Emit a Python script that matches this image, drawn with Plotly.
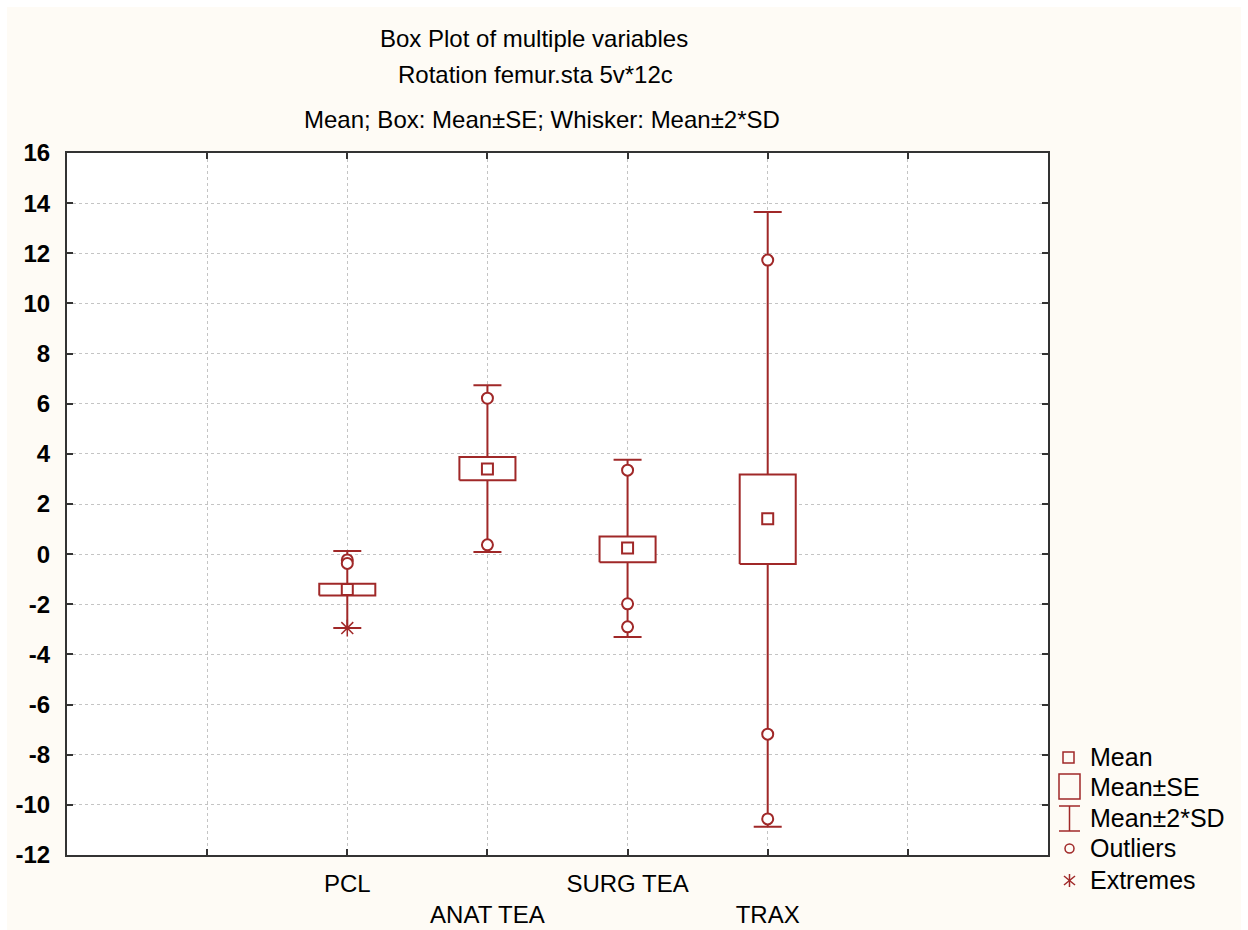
import plotly.graph_objects as go

# ---- data ----
categories = ["PCL", "ANAT TEA", "SURG TEA", "TRAX"]
cat_pos = [2, 3, 4, 5]
means = [-1.41, 3.40, 0.25, 1.41]
se_low = [-1.65, 2.95, -0.32, -0.39]
se_high = [-1.18, 3.87, 0.70, 3.18]
sd2_low = [-2.95, 0.09, -3.30, -10.87]
sd2_high = [0.13, 6.74, 3.76, 13.65]
outlier_cat = [2, 2, 3, 3, 4, 4, 4, 5, 5, 5]
outlier_val = [-0.23, -0.37, 6.22, 0.37, 3.35, -1.98, -2.90, 11.73, -7.18, -10.56]
extreme_cat = [2]
extreme_val = [-2.95]
y_ticks = list(range(-12, 17, 2))
y_ticktext = [str(v) for v in y_ticks]
x_grid = [1, 2, 3, 4, 5, 6]
x_ticktext = ["", "PCL", "<br>ANAT TEA", "SURG TEA", "<br>TRAX", ""]

RED = "#A02828"
CREAM = "#FEFBF5"
BOX_HALF = 0.2
FONT = "Liberation Sans, Arial, sans-serif"

# ---- page geometry (absolute window pixels; body margin removed) ----
W, H = 1248, 930
L, R, T, B = 67, 1048, 153, 855


def px(x):
    return (x - L) / (R - L)


def py(y):
    return (B - y) / (B - T)


fig = go.Figure()

# whiskers (Mean ± 2*SD)
fig.add_trace(go.Scatter(
    x=cat_pos, y=means, mode="markers",
    marker=dict(size=1, color="rgba(0,0,0,0)"),
    error_y=dict(type="data", symmetric=False,
                 array=[h - m for h, m in zip(sd2_high, means)],
                 arrayminus=[m - l for m, l in zip(means, sd2_low)],
                 color=RED, thickness=2, width=14),
    hoverinfo="skip", showlegend=False))

# boxes (Mean ± SE)
bx, by = [], []
for c, lo, hi in zip(cat_pos, se_low, se_high):
    bx += [c - BOX_HALF, c + BOX_HALF, c + BOX_HALF, c - BOX_HALF, c - BOX_HALF, None]
    by += [lo, lo, hi, hi, lo, None]
fig.add_trace(go.Scatter(x=bx, y=by, mode="lines", fill="toself",
                         fillcolor="white", line=dict(color=RED, width=2),
                         hoverinfo="skip", showlegend=False))

# means
fig.add_trace(go.Scatter(x=cat_pos, y=means, mode="markers",
                         marker=dict(symbol="square-open", size=11,
                                     color=RED, line=dict(width=2, color=RED)),
                         showlegend=False))
# outliers
fig.add_trace(go.Scatter(x=outlier_cat, y=outlier_val, mode="markers",
                         marker=dict(symbol="circle", size=11, color="white",
                                     line=dict(width=2, color=RED)),
                         showlegend=False))
# extremes
fig.add_trace(go.Scatter(x=extreme_cat, y=extreme_val, mode="markers",
                         marker=dict(symbol="asterisk-open", size=14,
                                     color=RED, line=dict(width=1.5, color=RED)),
                         showlegend=False))

shapes = []
# cream page area with thin white border, white plot area
shapes.append(dict(type="rect", xref="paper", yref="paper", layer="below",
                   x0=px(7), x1=px(1241), y0=py(7), y1=py(930),
                   fillcolor=CREAM, line=dict(width=0)))
shapes.append(dict(type="rect", xref="paper", yref="paper", layer="below",
                   x0=0, x1=1, y0=0, y1=1, fillcolor="white", line=dict(width=0)))

# legend symbols
lc = dict(color=RED, width=1.5)
shapes.append(dict(type="rect", xref="paper", yref="paper",
                   x0=px(1063), x1=px(1074), y0=py(752), y1=py(763), line=lc))
shapes.append(dict(type="rect", xref="paper", yref="paper",
                   x0=px(1059), x1=px(1080), y0=py(774), y1=py(799), line=lc))
shapes.append(dict(type="line", xref="paper", yref="paper",
                   x0=px(1059), x1=px(1080), y0=py(806), y1=py(806), line=lc))
shapes.append(dict(type="line", xref="paper", yref="paper",
                   x0=px(1059), x1=px(1080), y0=py(831), y1=py(831), line=lc))
shapes.append(dict(type="line", xref="paper", yref="paper",
                   x0=px(1069.5), x1=px(1069.5), y0=py(806), y1=py(831), line=lc))
shapes.append(dict(type="circle", xref="paper", yref="paper",
                   x0=px(1065), x1=px(1074), y0=py(844), y1=py(853), line=lc))
shapes.append(dict(type="line", xref="paper", yref="paper",
                   x0=px(1069.5), x1=px(1069.5), y0=py(874), y1=py(887), line=lc))
shapes.append(dict(type="line", xref="paper", yref="paper",
                   x0=px(1064), x1=px(1075), y0=py(876), y1=py(885), line=lc))
shapes.append(dict(type="line", xref="paper", yref="paper",
                   x0=px(1064), x1=px(1075), y0=py(885), y1=py(876), line=lc))

annotations = []
titles = [("Box Plot of multiple variables", 534, 38),
          ("Rotation femur.sta 5v*12c", 535, 74),
          ("Mean; Box: Mean±SE; Whisker: Mean±2*SD", 542, 119)]
for txt, x, y in titles:
    annotations.append(dict(text=txt, xref="paper", yref="paper", x=px(x), y=py(y),
                            xanchor="center", yanchor="middle", showarrow=False,
                            font=dict(family=FONT, size=24, color="black")))
legend_items = [("Mean", 757), ("Mean±SE", 787), ("Mean±2*SD", 818),
                ("Outliers", 848), ("Extremes", 880)]
for txt, y in legend_items:
    annotations.append(dict(text=txt, xref="paper", yref="paper", x=px(1088), y=py(y),
                            xanchor="left", yanchor="middle", showarrow=False,
                            font=dict(family=FONT, size=25, color="black")))

axis_common = dict(showline=True, mirror="ticks", linecolor="#333333", linewidth=2,
                   ticks="inside", ticklen=6, tickwidth=2, tickcolor="#333333",
                   showgrid=True, gridcolor="#C4C4C4", gridwidth=1, griddash="dot",
                   zeroline=False, automargin=False)

fig.update_layout(
    width=W, height=H,
    margin=dict(l=L, r=W - R, t=T, b=H - B, pad=0),
    paper_bgcolor="white", plot_bgcolor="white",
    showlegend=False,
    shapes=shapes, annotations=annotations,
    xaxis=dict(range=[0, 7], tickmode="array", tickvals=x_grid, ticktext=x_ticktext,
               tickfont=dict(family=FONT, size=24, color="black"),
               ticklabelstandoff=6, **axis_common),
    yaxis=dict(range=[-12, 16], tickmode="array", tickvals=y_ticks, ticktext=y_ticktext,
               tickfont=dict(family=FONT, size=24, color="black", weight="bold"),
               ticklabelstandoff=10, **axis_common),
)

fig.write_html(
    "out.html",
    config={"displayModeBar": False},
    post_script="document.body.style.margin='0';document.body.style.overflow='hidden';",
)
